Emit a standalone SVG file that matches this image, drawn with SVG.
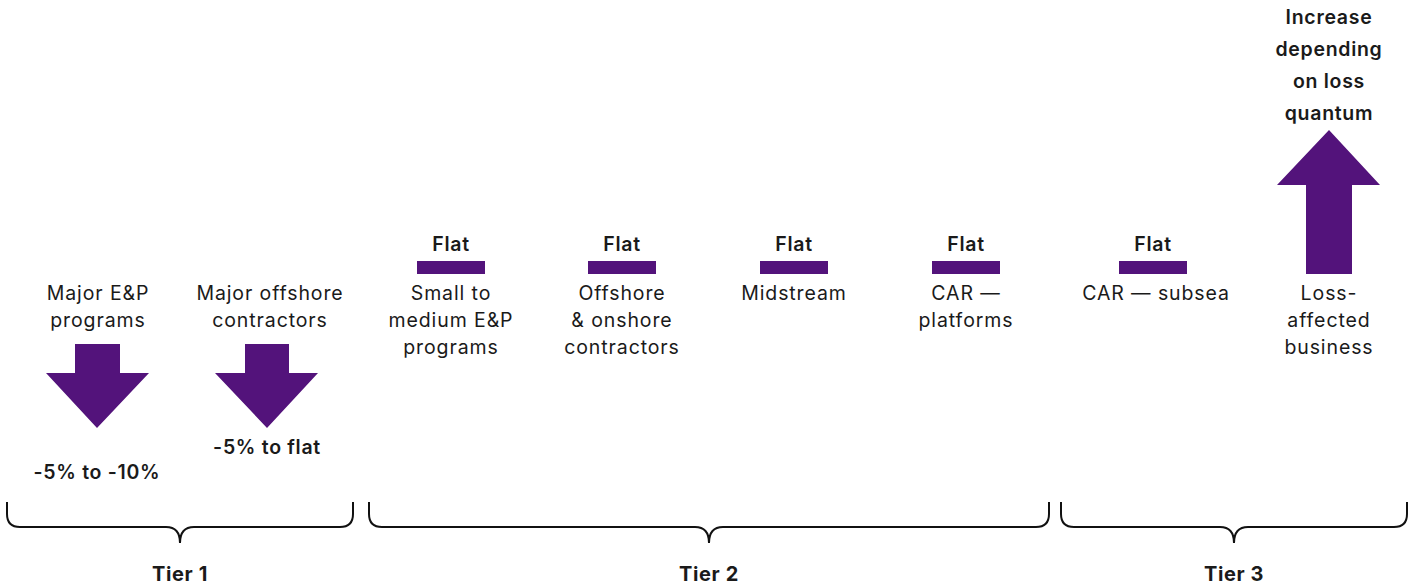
<svg xmlns="http://www.w3.org/2000/svg" width="1416" height="588" viewBox="0 0 1416 588">
<style>
text{font-family:Inter,"Liberation Sans",sans-serif;fill:#1a1a1a;text-anchor:middle}
.lbl{font-size:19.5px;font-weight:400;letter-spacing:0.9px}
.val{font-size:19.5px;font-weight:600;letter-spacing:0.7px}
.tier{font-size:20px;font-weight:700;letter-spacing:0.6px}
.arr{fill:#53137b}
.brace{fill:none;stroke:#111;stroke-width:2}
</style>
<rect width="1416" height="588" fill="#fff"/>
<g id="major-ep">
<text class="lbl" x="98" y="300">Major E&amp;P</text>
<text class="lbl" x="98" y="327">programs</text>
<polygon class="arr" points="75,344 120,344 120,373 149,373 97,428 46,373 75,373"/>
<text class="val" x="97" y="479">-5% to -10%</text>
</g>
<g id="major-offshore">
<text class="lbl" x="270" y="300">Major offshore</text>
<text class="lbl" x="270" y="327">contractors</text>
<polygon class="arr" points="245,344 289,344 289,373 318,373 267,428 215,373 245,373"/>
<text class="val" x="267" y="454">-5% to flat</text>
</g>
<g id="small-medium">
<text class="val" x="451" y="251">Flat</text>
<rect class="arr" x="417" y="261" width="68" height="13"/>
<text class="lbl" x="451" y="300">Small to</text>
<text class="lbl" x="451" y="327">medium E&amp;P</text>
<text class="lbl" x="451" y="354">programs</text>
</g>
<g id="offshore-onshore">
<text class="val" x="622" y="251">Flat</text>
<rect class="arr" x="588" y="261" width="68" height="13"/>
<text class="lbl" x="622" y="300">Offshore</text>
<text class="lbl" x="622" y="327">&amp; onshore</text>
<text class="lbl" x="622" y="354">contractors</text>
</g>
<g id="midstream">
<text class="val" x="794" y="251">Flat</text>
<rect class="arr" x="760" y="261" width="68" height="13"/>
<text class="lbl" x="794" y="300">Midstream</text>
</g>
<g id="car-platforms">
<text class="val" x="966" y="251">Flat</text>
<rect class="arr" x="932" y="261" width="68" height="13"/>
<text class="lbl" x="966" y="300">CAR —</text>
<text class="lbl" x="966" y="327">platforms</text>
</g>
<g id="car-subsea">
<text class="val" x="1153" y="251">Flat</text>
<rect class="arr" x="1119" y="261" width="68" height="13"/>
<text class="lbl" x="1156" y="300">CAR — subsea</text>
</g>
<g id="loss-affected">
<text class="val" x="1329" y="24">Increase</text>
<text class="val" x="1329" y="56">depending</text>
<text class="val" x="1329" y="88">on loss</text>
<text class="val" x="1329" y="120">quantum</text>
<polygon class="arr" points="1329,130 1380,185 1352,185 1352,274 1306,274 1306,185 1277,185"/>
<text class="lbl" x="1329" y="300">Loss-</text>
<text class="lbl" x="1329" y="327">affected</text>
<text class="lbl" x="1329" y="354">business</text>
</g>
<g id="connectors">
<path class="brace" d="M7,502 V514 Q7,527 20,527 H166 Q180,527 180,543 Q180,527 194,527 H340 Q353,527 353,514 V502"/>
<path class="brace" d="M369,502 V514 Q369,527 382,527 H695 Q709,527 709,543 Q709,527 723,527 H1036 Q1049,527 1049,514 V502"/>
<path class="brace" d="M1061,502 V514 Q1061,527 1074,527 H1220 Q1234,527 1234,543 Q1234,527 1248,527 H1394 Q1407,527 1407,514 V502"/>
</g>
<g id="tiers">
<text class="tier" x="180" y="581">Tier 1</text>
<text class="tier" x="709" y="581">Tier 2</text>
<text class="tier" x="1234" y="581">Tier 3</text>
</g>
</svg>
